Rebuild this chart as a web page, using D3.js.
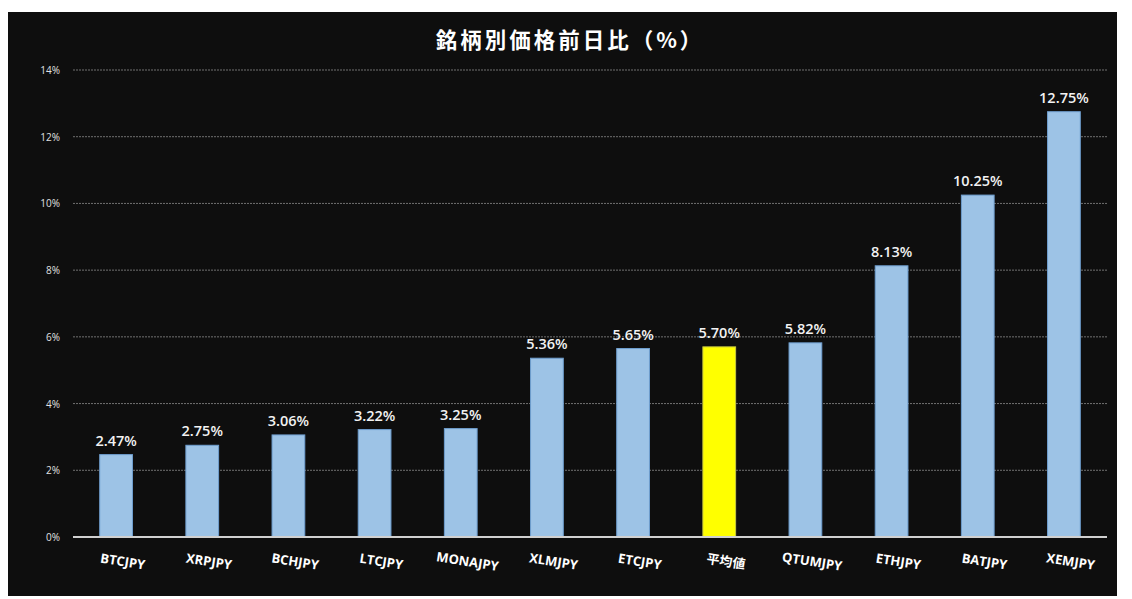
<!DOCTYPE html>
<html>
  <head>
    <meta charset="utf-8">
    <script src="https://d3js.org/d3.v7.min.js"></script>
    <style>
      body { margin: 0; background: #ffffff; }
      text { font-family: "Open Sans", "Noto Sans CJK JP", sans-serif; }
    </style>
  </head>
  <body>
    <svg id="chart" width="1132" height="599"></svg>
    <script>
      const categories = ["BTCJPY", "XRPJPY", "BCHJPY", "LTCJPY", "MONAJPY", "XLMJPY", "ETCJPY", "平均値", "QTUMJPY", "ETHJPY", "BATJPY", "XEMJPY"];
      const values = [2.47, 2.75, 3.06, 3.22, 3.25, 5.36, 5.65, 5.70, 5.82, 8.13, 10.25, 12.75];
      const yTicks = [0, 2, 4, 6, 8, 10, 12, 14];
      const highlight = "平均値";

      let svg = d3.select("#chart");

      // dark panel
      svg.append("rect")
        .attr("x", 8).attr("y", 12)
        .attr("width", 1109).attr("height", 584)
        .attr("fill", "#0e0e0e");

      svg.append("text")
        .attr("x", 570).attr("y", 48)
        .attr("text-anchor", "middle")
        .attr("fill", "#ffffff")
        .attr("font-size", 21.5)
        .attr("font-weight", "bold")
        .attr("letter-spacing", 3)
        .style("font-family", "'Noto Sans CJK JP', sans-serif")
        .text("銘柄別価格前日比（%）");

      let xScale = d3.scaleBand().domain(categories).range([73, 1107]).paddingInner(0.62).paddingOuter(0.31);
      let yScale = d3.scaleLinear().domain([0, 14]).range([537, 70]);

      let grid = svg.append("g");
      grid.selectAll("line").data(yTicks.filter(d => d > 0))
        .join("line")
        .attr("x1", 73).attr("x2", 1107)
        .attr("y1", d => yScale(d)).attr("y2", d => yScale(d))
        .attr("stroke", "#8a8a8a")
        .attr("stroke-width", 0.8)
        .attr("stroke-dasharray", "2,1");

      grid.selectAll("text").data(yTicks)
        .join("text")
        .attr("x", 60)
        .attr("y", d => yScale(d) + 4)
        .attr("text-anchor", "end")
        .attr("fill", "#e0e0e0")
        .attr("font-size", 10)
        .text(d => d + "%");

      svg.selectAll("rect.bar").data(categories)
        .join("rect")
        .attr("class", "bar")
        .attr("x", d => xScale(d))
        .attr("width", xScale.bandwidth())
        .attr("y", (d, i) => yScale(values[i]))
        .attr("height", (d, i) => yScale(0) - yScale(values[i]))
        .attr("fill", d => d == highlight ? "#ffff00" : "#9dc3e6")
        .attr("stroke", d => d == highlight ? "#c8c840" : "#6f9fd0")
        .attr("stroke-width", 1);

      svg.selectAll("text.val").data(categories)
        .join("text")
        .attr("class", "val")
        .attr("x", d => xScale(d) + xScale.bandwidth() / 2)
        .attr("y", (d, i) => yScale(values[i]) - 9)
        .attr("text-anchor", "middle")
        .attr("fill", "#f2f2f2")
        .attr("font-size", 14.5)
        .attr("font-weight", 600)
        .text((d, i) => values[i].toFixed(2) + "%");

      // zero axis
      svg.append("line")
        .attr("x1", 73).attr("x2", 1107)
        .attr("y1", yScale(0)).attr("y2", yScale(0))
        .attr("stroke", "#d0d0d0")
        .attr("stroke-width", 2);

      svg.selectAll("text.cat").data(categories)
        .join("text")
        .attr("class", "cat")
        .attr("transform", d => {
          let cx = xScale(d) + xScale.bandwidth() / 2 + 6;
          return "translate(" + cx + ",566) rotate(9)";
        })
        .attr("text-anchor", "middle")
        .attr("fill", "#ffffff")
        .attr("font-size", 13)
        .attr("font-weight", "bold")
        .text(d => d);
    </script>
  </body>
</html>
